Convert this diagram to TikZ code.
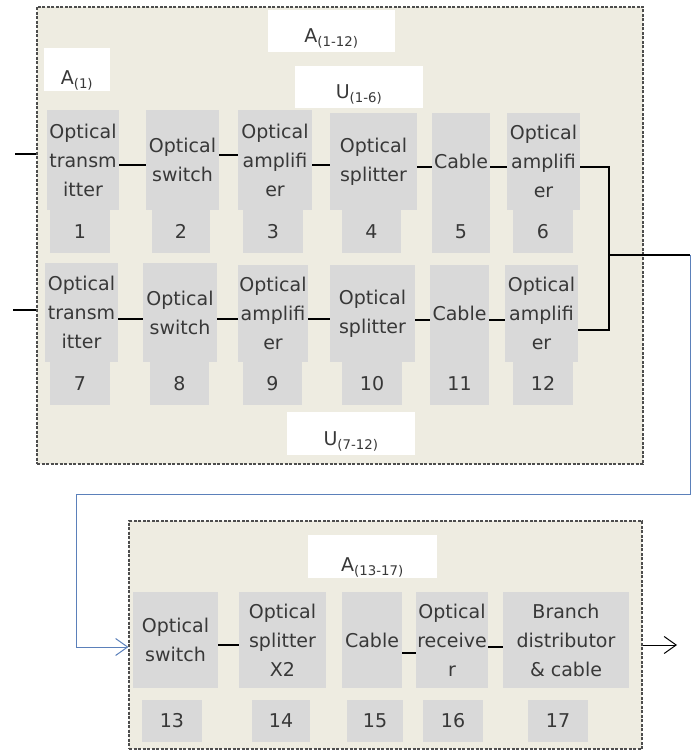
\documentclass[tikz,border=0pt]{standalone}
\usepackage{fontspec}
\setmainfont{DejaVu Sans}
\usetikzlibrary{arrows.meta}
\definecolor{bgpanel}{HTML}{EEECE1}
\definecolor{boxgray}{HTML}{D9D9D9}
\definecolor{txtgray}{HTML}{383838}
\definecolor{framegray}{HTML}{4D4D4D}
\definecolor{linkblue}{HTML}{5B80BA}
\tikzset{
 panel/.style={draw=framegray, fill=bgpanel, line width=1.1pt, dash pattern=on 3pt off 1.5pt, inner sep=0pt},
 gb/.style={fill=boxgray, inner sep=0pt, align=center, text=txtgray, font=\fontsize{19}{29}\selectfont},
 lb/.style={fill=white, inner sep=0pt, text=txtgray, font=\fontsize{19}{23}\selectfont},
 wire/.style={draw=black, line width=1.1pt},
 bluewire/.style={draw=linkblue, line width=1.1pt},
 barb/.style={-{Straight Barb[length=12pt,width=17pt]}},
}
\newcommand\pnl[5]{\node[panel, minimum width={(#4-#2)*1pt}, minimum height={(#5-#3)*1pt}] (#1) at ({(#2+#4)/2},{(#3+#5)/2}) {};}
\newcommand\gbx[6]{\node[gb, minimum width={(#4-#2)*1pt}, minimum height={(#5-#3)*1pt}] (#1) at ({(#2+#4)/2},{(#3+#5)/2}) {#6};}
\newcommand\lbx[7]{\node[lb, minimum width={(#4-#2)*1pt}, minimum height={(#5-#3)*1pt}, text height={(2*#6+3)*1pt}, text depth=3pt] (#1) at ({(#2+#4)/2},{(#3+#5)/2}) {#7};}
\begin{document}
\begin{tikzpicture}[x=1pt,y=-1pt]
\useasboundingbox (0,0) rectangle (696,751);
% panels
\pnl{P1}{37}{7}{643}{464}
\pnl{P2}{129}{521}{642}{749}
% labels
\lbx{L1}{268}{10}{395}{52}{11.5}{A\textsubscript{(1-12)}}
\lbx{L2}{44}{48}{110}{91}{15}{A\textsubscript{(1)}}
\lbx{L3}{295}{66}{423}{108}{11.5}{U\textsubscript{(1-6)}}
\lbx{L4}{287}{412}{415}{455}{12}{U\textsubscript{(7-12)}}
\lbx{L5}{308}{535}{437}{578}{15}{A\textsubscript{(13-17)}}
% row 1
\gbx{b1}{47}{110}{119}{210}{Optical\\transm\\itter}
\gbx{n1}{50}{210}{110}{253}{1}
\gbx{b2}{146}{110}{219}{210}{Optical\\switch}
\gbx{n2}{152}{210}{210}{253}{2}
\gbx{b3}{238}{110}{312}{210}{Optical\\amplifi\\er}
\gbx{n3}{243}{210}{303}{253}{3}
\gbx{b4}{330}{113}{417}{210}{Optical\\splitter}
\gbx{n4}{342}{210}{401}{253}{4}
\gbx{b5}{432}{113}{490}{210}{Cable}
\gbx{n5}{432}{210}{490}{253}{5}
\gbx{b6}{507}{113}{580}{210}{Optical\\amplifi\\er}
\gbx{n6}{513}{210}{573}{253}{6}
% row 2
\gbx{b7}{45}{263}{118}{362}{Optical\\transm\\itter}
\gbx{n7}{50}{362}{110}{405}{7}
\gbx{b8}{143}{263}{217}{362}{Optical\\switch}
\gbx{n8}{150}{362}{209}{405}{8}
\gbx{b9}{238}{265}{308}{362}{Optical\\amplifi\\er}
\gbx{n9}{243}{362}{302}{405}{9}
\gbx{b10}{330}{265}{415}{362}{Optical\\splitter}
\gbx{n10}{342}{362}{402}{405}{10}
\gbx{b11}{430}{265}{489}{362}{Cable}
\gbx{n11}{430}{362}{489}{405}{11}
\gbx{b12}{505}{265}{578}{362}{Optical\\amplifi\\er}
\gbx{n12}{513}{362}{573}{405}{12}
% bottom row
\gbx{b13}{133}{592}{218}{688}{Optical\\switch}
\gbx{n13}{142}{700}{202}{742}{13}
\gbx{b14}{239}{592}{326}{688}{Optical\\splitter\\X2}
\gbx{n14}{252}{700}{310}{742}{14}
\gbx{b15}{342}{592}{402}{688}{Cable}
\gbx{n15}{347}{700}{403}{742}{15}
\gbx{b16}{416}{592}{488}{688}{Optical\\receive\\r}
\gbx{n16}{423}{700}{483}{742}{16}
\gbx{b17}{503}{592}{629}{688}{Branch\\distributor\\\& cable}
\gbx{n17}{528}{700}{588}{742}{17}
% free ends and corners
\coordinate (i1) at (15,154);
\coordinate (i2) at (13,310);
\coordinate (j1) at (609,167);
\coordinate (j2) at (609,330);
\coordinate (jm) at (609,255);
\coordinate (c1) at (690,255);
\coordinate (c2) at (690,494);
\coordinate (c3) at (76,494);
\coordinate (c4) at (76,647);
\coordinate (o1) at (677,645);
% inputs
\draw[wire] (i1) -- (P1.west |- i1);
\draw[wire] (i2) -- (P1.west |- i2);
% row 1 links
\draw[wire] (b1.east |- 0,165) -- (b2.west |- 0,165);
\draw[wire] (b2.east |- 0,155) -- (b3.west |- 0,155);
\draw[wire] (b3.east |- 0,165) -- (b4.west |- 0,165);
\draw[wire] (b4.east |- 0,167) -- (b5.west |- 0,167);
\draw[wire] (b5.east |- 0,167) -- (b6.west |- 0,167);
% row 2 links
\draw[wire] (b7.east |- 0,319) -- (b8.west |- 0,319);
\draw[wire] (b8.east |- 0,319) -- (b9.west |- 0,319);
\draw[wire] (b9.east |- 0,319) -- (b10.west |- 0,319);
\draw[wire] (b10.east |- 0,320) -- (b11.west |- 0,320);
\draw[wire] (b11.east |- 0,320) -- (b12.west |- 0,320);
% merge
\draw[wire] (b6.east |- j1) -- (j1) -- (j2) -- (b12.east |- j2);
\draw[wire] (jm) -- (c1);
\draw[bluewire, barb, line width=1pt] (c1) -- (c2) -- (c3) -- (c4) -- (P2.west |- c4);
% bottom links
\draw[wire] (b13.east |- 0,645) -- (b14.west |- 0,645);
\draw[wire] (b15.east |- 0,653) -- (b16.west |- 0,653);
\draw[wire] (b16.east |- 0,647) -- (b17.west |- 0,647);
% output
\draw[wire, barb, line width=1pt] (P2.east |- o1) -- (o1);
\end{tikzpicture}
\end{document}
